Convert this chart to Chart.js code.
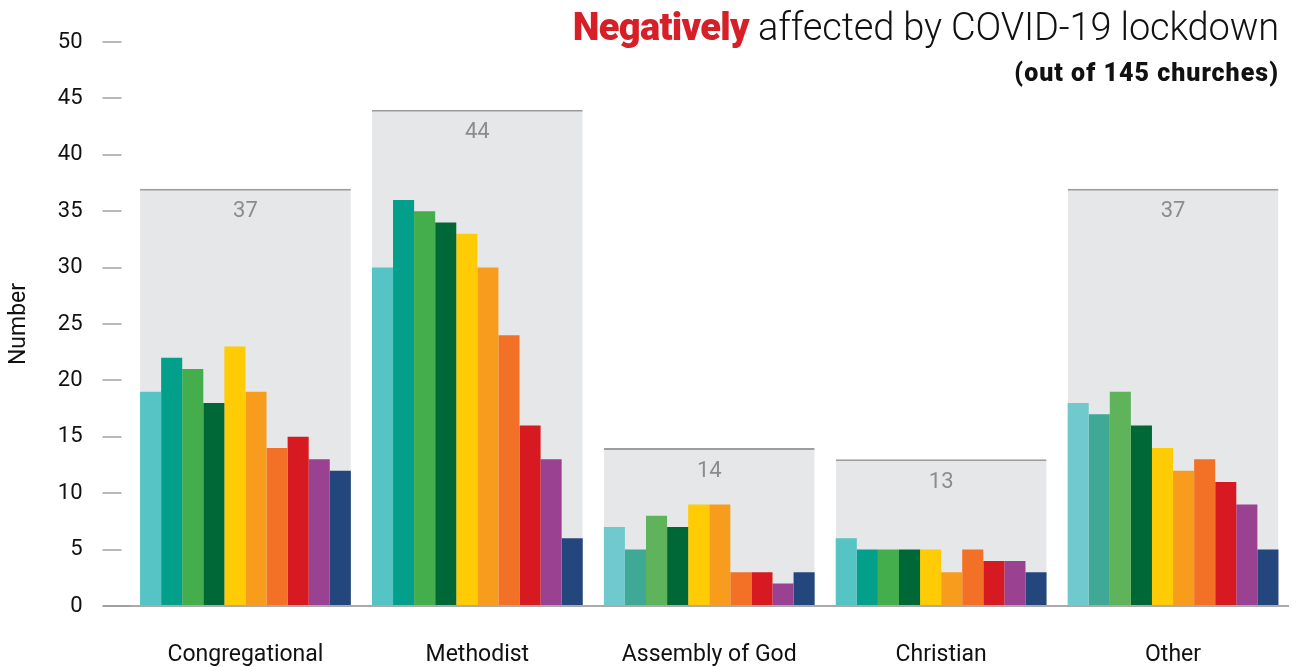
<!DOCTYPE html>
<html>
<head>
<meta charset="utf-8">
<script src="https://cdn.jsdelivr.net/npm/chart.js@4.4.1/dist/chart.umd.min.js"></script>
<style>
    body { margin: 0; background: #fff; }
    #wrap { position: relative; width: 1297px; height: 667px; }
    #title { position: absolute; right: 18px; top: 5px; font-family: Roboto, sans-serif; font-size: 38px; font-weight: 300; color: #111; white-space: nowrap; letter-spacing: -0.15px; }
    #title b { color: #d71f27; font-weight: 900; letter-spacing: -0.7px; }
    #subtitle { position: absolute; right: 18px; top: 58px; font-family: Roboto, sans-serif; font-size: 25px; font-weight: 900; color: #111; white-space: nowrap; letter-spacing: 1px; }
</style>
</head>
<body>
<div id="wrap">
    <canvas id="chart" width="1297" height="667"></canvas>
    <div id="title"><b>Negatively</b> affected by COVID-19 lockdown</div>
    <div id="subtitle">(out of 145 churches)</div>
</div>
<script>
// categories and totals (grey boxes)
const categories = ["Congregational", "Methodist", "Assembly of God", "Christian", "Other"];
const totals = [37, 44, 14, 13, 37];

// 10 bars per category, left to right
const congregational = [19, 22, 21, 18, 23, 19, 14, 15, 13, 12];
const methodist = [30, 36, 35, 34, 33, 30, 24, 16, 13, 6];
const assemblyOfGod = [7, 5, 8, 7, 9, 9, 3, 3, 2, 3];
const christian = [6, 5, 5, 5, 5, 3, 5, 4, 4, 3];
const other = [18, 17, 19, 16, 14, 12, 13, 11, 9, 5];

const yTicks = [0, 5, 10, 15, 20, 25, 30, 35, 40, 45, 50];

const colors = ["#56c4c5", "#02a08a", "#43ae4b", "#006837", "#fecb05", "#f89c1e", "#f37126", "#d71a21", "#9b4191", "#23477c"];
const altColors = ["#70cacd", "#40a996", "#5fb35b", "#006837", "#fecb05", "#f89c1e", "#f37126", "#d71a21", "#9b4191", "#23477c"];

const groups = [congregational, methodist, assemblyOfGod, christian, other];
const useAlt = [false, false, true, false, true];

let datasets = colors.map((c, i) => ({
    data: groups.map(g => g[i]),
    backgroundColor: groups.map((g, k) => useAlt[k] ? altColors[i] : colors[i]),
    borderWidth: 0,
    order: 0
}));

// grey background box showing total
datasets.push({
    data: totals,
    grouped: false,
    backgroundColor: "#e6e7e9",
    borderColor: "#9d9d9d",
    borderWidth: { top: 2, left: 0, right: 0, bottom: 0 },
    borderSkipped: false,
    order: 1
});

// draw the total number inside each grey box
const totalLabels = {
    id: "totalLabels",
    afterDatasetsDraw(chart) {
        let meta = chart.getDatasetMeta(datasets.length - 1);
        let ctx = chart.ctx;
        ctx.save();
        ctx.fillStyle = "#8c8c8c";
        ctx.font = "22px Roboto, sans-serif";
        ctx.textAlign = "center";
        ctx.textBaseline = "middle";
        meta.data.forEach((bar, i) => {
            ctx.fillText(totals[i], bar.x, bar.y + 23);
        });
        ctx.restore();
    }
};

new Chart(document.getElementById("chart"), {
    type: "bar",
    data: { labels: categories, datasets: datasets },
    options: {
        responsive: false,
        animation: false,
        events: [],
        categoryPercentage: 0.909,
        barPercentage: 1.0,
        layout: { padding: { top: 42, right: 8, bottom: 0, left: 0 } },
        plugins: {
            legend: { display: false },
            tooltip: { enabled: false }
        },
        scales: {
            x: {
                afterFit: s => { s.height = 61; },
                grid: { display: false, drawTicks: false },
                border: { display: false },
                ticks: {
                    padding: 35,
                    maxRotation: 0,
                    color: "#111",
                    font: { family: "Roboto, sans-serif", size: 23 }
                }
            },
            y: {
                min: 0,
                max: 50,
                afterBuildTicks: s => { s.ticks = yTicks.map(v => ({ value: v })); },
                afterFit: s => { s.width = 129.5; },
                border: { display: false },
                grid: {
                    color: c => c.tick && c.tick.value === 0 ? "#aaaaaa" : "rgba(0,0,0,0)",
                    lineWidth: 2,
                    tickColor: "#a0a0a0",
                    tickWidth: c => c.tick && c.tick.value === 0 ? 2 : 1.5,
                    tickLength: 27,
                    tickBorderDash: c => c.tick && c.tick.value === 0 ? [] : [19, 40]
                },
                ticks: {
                    padding: 20,
                    color: "#111",
                    font: { family: "Roboto, sans-serif", size: 22 }
                },
                title: {
                    display: true,
                    text: "Number",
                    color: "#111",
                    font: { family: "Roboto, sans-serif", size: 23 },
                    padding: { top: 5, bottom: 0 }
                }
            }
        }
    },
    plugins: [totalLabels]
});
</script>
</body>
</html>
